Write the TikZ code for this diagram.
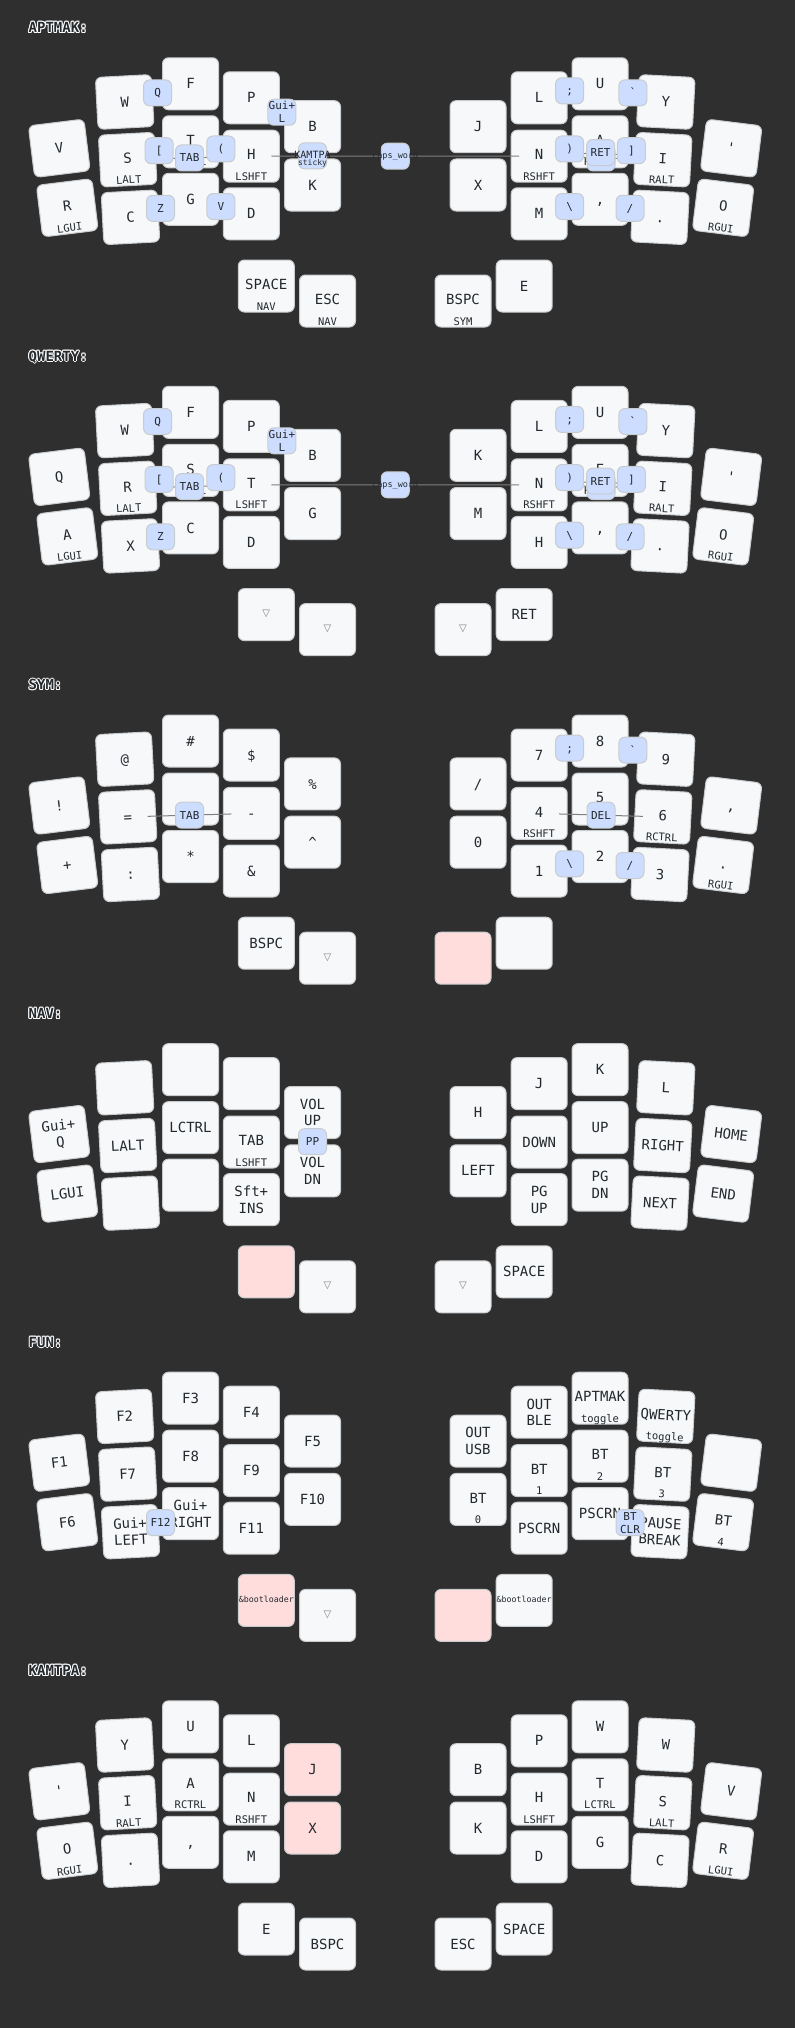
\documentclass[tikz,border=0pt]{standalone}
\usepackage{fontspec}
\setmonofont{DejaVu Sans Mono}
\newfontfamily\symf{DejaVu Sans}
\usetikzlibrary{calc}
\definecolor{bgc}{HTML}{2F2F2F}
\definecolor{keyfill}{HTML}{F6F8FA}
\definecolor{keyline}{HTML}{C9CCCF}
\definecolor{heldfill}{HTML}{FFDDDD}
\definecolor{combofill}{HTML}{CCDDFF}
\definecolor{textc}{HTML}{24292E}
\definecolor{transc}{HTML}{7B7E81}
\definecolor{linec}{HTML}{808080}
\pgfdeclarelayer{bg}
\pgfdeclarelayer{keys}
\pgfdeclarelayer{lines}
\pgfsetlayers{bg,keys,lines,main}

\newcommand\tapf{\ttfamily\fontsize{14}{16}\selectfont}
\newcommand\holdf{\ttfamily\fontsize{10.5}{12}\selectfont}
\newcommand\combf{\ttfamily\fontsize{11}{13}\selectfont}
\newcommand\titlf{\ttfamily\bfseries\fontsize{14}{16}\selectfont}
\newcommand\trs{\textcolor{transc}{\raisebox{3pt}{\symf\fontsize{10}{12}\selectfont ▽}}}
\newcommand\boot{\raisebox{3.5pt}{\fontsize{8.3}{10}\selectfont\&bootloader}}

\tikzset{
 keybox/.style={draw=keyline, fill=keyfill, line width=1pt, rounded corners=6pt, minimum width=56pt, minimum height=52pt, inner sep=0pt, outer sep=0pt},
 keyheld/.style={keybox, fill=heldfill},
 tapl/.style={anchor=base, inner sep=0pt, font=\tapf, text=textc},
 holdl/.style={anchor=base, inner sep=0pt, font=\holdf, text=textc},
 combobox/.style={draw=keyline, fill=combofill, line width=1pt, rounded corners=6pt, minimum width=28pt, minimum height=26pt, inner sep=0pt, font=\combf, text=textc, text height=8pt, text depth=0pt},
 combotxt/.style={anchor=base, inner sep=0pt, font=\combf, text=textc},
 dendron/.style={draw=linec, line width=1pt, shorten >=20pt},
 titl/.style={anchor=base west, inner sep=0pt, font=\titlf},
}

% key with optional hold label: x y rot name style tap hold
\newcommand\kk[7]{%
 \begin{pgfonlayer}{keys}
 \begin{scope}[shift={(#1,#2)}, rotate=#3, transform shape]
  \node[#5] (#4) at (0,0) {};
  \ifx\relax#7\relax
   \node[tapl] at (0,5.1) {#6};
  \else
   \node[tapl] at (0,3.6) {#6};
   \node[holdl] at (0,24) {#7};
  \fi
 \end{scope}
 \end{pgfonlayer}}
% key with two-line tap label
\newcommand\kkb[7]{%
 \begin{pgfonlayer}{keys}
 \begin{scope}[shift={(#1,#2)}, rotate=#3, transform shape]
  \node[#5] (#4) at (0,0) {};
  \node[tapl] at (0,-3.2) {#6};
  \node[tapl] at (0,13.4) {#7};
 \end{scope}
 \end{pgfonlayer}}
\newcommand\defpos[4]{\expandafter\def\csname pos#1\endcsname{{#2}{#3}{#4}}}
\newcommand\K[5]{\expandafter\expandafter\expandafter\kk\csname pos#1\endcsname{#2}{#3}{#4}{#5}}
\newcommand\KB[5]{\expandafter\expandafter\expandafter\kkb\csname pos#1\endcsname{#2}{#3}{#4}{#5}}
\newcommand\cb[3]{\node[combobox] (#1) at #2 {#3};}
\newcommand\cbb[4]{\node[combobox] (#1) at #2 {};
 \node[combotxt, yshift=2.5pt] at (#1.center) {#3};
 \node[combotxt, yshift=-10.3pt] at (#1.center) {#4};}
\newcommand\dd[2]{\begin{pgfonlayer}{lines}\draw[dendron] (#1.center) -- (#2.center);\end{pgfonlayer}}
\newcommand\ttl[2]{%
 \foreach \dx/\dy in {-1/0,1/0,0/-1,0/1,-0.75/-0.75,0.75/0.75,-0.75/0.75,0.75/-0.75}
  {\node[titl, text=white] at (28.5+\dx,32.6+\dy) {#2};}
 \node[titl, text=textc] (#1) at (28.5,32.6) {#2};}

\defpos{L00}{59.3}{148.3}{7}
\defpos{L01}{67.3}{207.8}{7}
\defpos{L10}{124.7}{102}{3}
\defpos{L11}{127.7}{159.7}{3}
\defpos{L12}{130.5}{217.3}{3}
\defpos{L20}{190.5}{83.8}{0}
\defpos{L21}{190.5}{141.8}{0}
\defpos{L22}{190.5}{199.3}{0}
\defpos{L30}{251.3}{97.8}{0}
\defpos{L31}{251.3}{156.2}{0}
\defpos{L32}{251.3}{213.8}{0}
\defpos{L40}{312.5}{126.7}{0}
\defpos{L41}{312.5}{185}{0}
\defpos{LT1}{266.3}{286}{0}
\defpos{LT2}{327.5}{301}{0}
\defpos{R00}{731.2}{148.3}{-7}
\defpos{R01}{723.2}{207.8}{-7}
\defpos{R10}{665.8}{102}{-3}
\defpos{R11}{662.8}{159.7}{-3}
\defpos{R12}{660}{217.3}{-3}
\defpos{R20}{600}{83.8}{0}
\defpos{R21}{600}{141.8}{0}
\defpos{R22}{600}{199.3}{0}
\defpos{R30}{539.2}{97.8}{0}
\defpos{R31}{539.2}{156.2}{0}
\defpos{R32}{539.2}{213.8}{0}
\defpos{R40}{478}{126.7}{0}
\defpos{R41}{478}{185}{0}
\defpos{RT1}{524.2}{286}{0}
\defpos{RT2}{463}{301}{0}

\begin{document}
\begin{tikzpicture}[x=1pt,y=-1pt]
\useasboundingbox (0,0) rectangle (795,2028);
\begin{pgfonlayer}{bg}\fill[bgc] (0,0) rectangle (795,2028);\end{pgfonlayer}

%% ---------------- APTMAK
\begin{scope}[shift={(0,0)}]
\ttl{tA}{APTMAK:}
\K{L00}{a-L00}{keybox}{V}{}
\K{L01}{a-L01}{keybox}{R}{LGUI}
\K{L10}{a-L10}{keybox}{W}{}
\K{L11}{a-L11}{keybox}{S}{LALT}
\K{L12}{a-L12}{keybox}{C}{}
\K{L20}{a-L20}{keybox}{F}{}
\K{L21}{a-L21}{keybox}{T}{LCTRL}
\K{L22}{a-L22}{keybox}{G}{}
\K{L30}{a-L30}{keybox}{P}{}
\K{L31}{a-L31}{keybox}{H}{LSHFT}
\K{L32}{a-L32}{keybox}{D}{}
\K{L40}{a-L40}{keybox}{B}{}
\K{L41}{a-L41}{keybox}{K}{}
\K{LT1}{a-LT1}{keybox}{SPACE}{NAV}
\K{LT2}{a-LT2}{keybox}{ESC}{NAV}
\K{R40}{a-R40}{keybox}{J}{}
\K{R41}{a-R41}{keybox}{X}{}
\K{R30}{a-R30}{keybox}{L}{}
\K{R31}{a-R31}{keybox}{N}{RSHFT}
\K{R32}{a-R32}{keybox}{M}{}
\K{R20}{a-R20}{keybox}{U}{}
\K{R21}{a-R21}{keybox}{A}{RCTRL}
\K{R22}{a-R22}{keybox}{,}{}
\K{R10}{a-R10}{keybox}{Y}{}
\K{R11}{a-R11}{keybox}{I}{RALT}
\K{R12}{a-R12}{keybox}{.}{}
\K{R00}{a-R00}{keybox}{'}{}
\K{R01}{a-R01}{keybox}{O}{RGUI}
\K{RT2}{a-RT2}{keybox}{BSPC}{SYM}
\K{RT1}{a-RT1}{keybox}{E}{}
\cb{aQ}{($(a-L10)!0.5!(a-L20)$)}{Q}
\cbb{aGL}{($(a-L30)!0.5!(a-L40)$)}{Gui+}{L}
\cb{aLB}{($(a-L11)!0.5!(a-L21)$)}{[}
\cb{aTAB}{($(a-L11)!0.5!(a-L31)$)}{TAB}
\dd{aTAB}{a-L11}\dd{aTAB}{a-L31}
\cb{aLP}{($(a-L21)!0.5!(a-L31)$)}{(}
\node[combobox] (aKAM) at ($(a-L40)!0.5!(a-L41)$) {};
\node[anchor=base, inner sep=0pt, font=\ttfamily\fontsize{10}{12}\selectfont, text=textc, yshift=-2.6pt] at (aKAM.center) {KAMTPA};
\node[anchor=base, inner sep=0pt, font=\ttfamily\fontsize{8}{10}\selectfont, text=textc, yshift=-10pt] at (aKAM.center) {sticky};
\cb{aZ}{($(a-L12)!0.5!(a-L22)$)}{Z}
\cb{aV}{($(a-L22)!0.5!(a-L32)$)}{V}
\node[combobox] (aCW) at ($(a-L31)!0.5!(a-R31)$) {};
\node[anchor=base, inner sep=0pt, font=\ttfamily\fontsize{8.5}{10}\selectfont, text=textc, yshift=-2.5pt] at (aCW.center) {caps\_word};
\dd{aCW}{a-L31}\dd{aCW}{a-R31}
\cb{aSC}{($(a-R30)!0.5!(a-R20)$)}{;}
\cb{aGR}{($(a-R20)!0.5!(a-R10)$)}{`}
\cb{aRP}{($(a-R31)!0.5!(a-R21)$)}{)}
\cb{aNI}{($(a-R31)!0.5!(a-R11)$)}{}
\dd{aNI}{a-R31}\dd{aNI}{a-R11}
\cb{aRET}{(barycentric cs:a-R31=1,a-R21=1,a-R11=1)}{RET}
\dd{aRET}{a-R31}\dd{aRET}{a-R11}
\cb{aRB}{($(a-R21)!0.5!(a-R11)$)}{]}
\cb{aBS}{($(a-R32)!0.5!(a-R22)$)}{\textbackslash}
\cb{aSL}{($(a-R22)!0.5!(a-R12)$)}{/}
\end{scope}

%% ---------------- QWERTY
\begin{scope}[shift={(0,328.6)}]
\ttl{tQ}{QWERTY:}
\K{L00}{q-L00}{keybox}{Q}{}
\K{L01}{q-L01}{keybox}{A}{LGUI}
\K{L10}{q-L10}{keybox}{W}{}
\K{L11}{q-L11}{keybox}{R}{LALT}
\K{L12}{q-L12}{keybox}{X}{}
\K{L20}{q-L20}{keybox}{F}{}
\K{L21}{q-L21}{keybox}{S}{LCTRL}
\K{L22}{q-L22}{keybox}{C}{}
\K{L30}{q-L30}{keybox}{P}{}
\K{L31}{q-L31}{keybox}{T}{LSHFT}
\K{L32}{q-L32}{keybox}{D}{}
\K{L40}{q-L40}{keybox}{B}{}
\K{L41}{q-L41}{keybox}{G}{}
\K{LT1}{q-LT1}{keybox}{\trs}{}
\K{LT2}{q-LT2}{keybox}{\trs}{}
\K{R40}{q-R40}{keybox}{K}{}
\K{R41}{q-R41}{keybox}{M}{}
\K{R30}{q-R30}{keybox}{L}{}
\K{R31}{q-R31}{keybox}{N}{RSHFT}
\K{R32}{q-R32}{keybox}{H}{}
\K{R20}{q-R20}{keybox}{U}{}
\K{R21}{q-R21}{keybox}{E}{RCTRL}
\K{R22}{q-R22}{keybox}{,}{}
\K{R10}{q-R10}{keybox}{Y}{}
\K{R11}{q-R11}{keybox}{I}{RALT}
\K{R12}{q-R12}{keybox}{.}{}
\K{R00}{q-R00}{keybox}{'}{}
\K{R01}{q-R01}{keybox}{O}{RGUI}
\K{RT2}{q-RT2}{keybox}{\trs}{}
\K{RT1}{q-RT1}{keybox}{RET}{}
\cb{qQ}{($(q-L10)!0.5!(q-L20)$)}{Q}
\cbb{qGL}{($(q-L30)!0.5!(q-L40)$)}{Gui+}{L}
\cb{qLB}{($(q-L11)!0.5!(q-L21)$)}{[}
\cb{qTAB}{($(q-L11)!0.5!(q-L31)$)}{TAB}
\dd{qTAB}{q-L11}\dd{qTAB}{q-L31}
\cb{qLP}{($(q-L21)!0.5!(q-L31)$)}{(}
\cb{qZ}{($(q-L12)!0.5!(q-L22)$)}{Z}
\node[combobox] (qCW) at ($(q-L31)!0.5!(q-R31)$) {};
\node[anchor=base, inner sep=0pt, font=\ttfamily\fontsize{8.5}{10}\selectfont, text=textc, yshift=-2.5pt] at (qCW.center) {caps\_word};
\dd{qCW}{q-L31}\dd{qCW}{q-R31}
\cb{qSC}{($(q-R30)!0.5!(q-R20)$)}{;}
\cb{qGR}{($(q-R20)!0.5!(q-R10)$)}{`}
\cb{qRP}{($(q-R31)!0.5!(q-R21)$)}{)}
\cb{qNI}{($(q-R31)!0.5!(q-R11)$)}{}
\dd{qNI}{q-R31}\dd{qNI}{q-R11}
\cb{qRET}{(barycentric cs:q-R31=1,q-R21=1,q-R11=1)}{RET}
\dd{qRET}{q-R31}\dd{qRET}{q-R11}
\cb{qRB}{($(q-R21)!0.5!(q-R11)$)}{]}
\cb{qBS}{($(q-R32)!0.5!(q-R22)$)}{\textbackslash}
\cb{qSL}{($(q-R22)!0.5!(q-R12)$)}{/}
\end{scope}

%% ---------------- SYM
\begin{scope}[shift={(0,657.2)}]
\ttl{tS}{SYM:}
\K{L00}{s-L00}{keybox}{!}{}
\K{L01}{s-L01}{keybox}{+}{}
\K{L10}{s-L10}{keybox}{@}{}
\K{L11}{s-L11}{keybox}{=}{}
\K{L12}{s-L12}{keybox}{:}{}
\K{L20}{s-L20}{keybox}{\#}{}
\K{L21}{s-L21}{keybox}{}{}
\K{L22}{s-L22}{keybox}{*}{}
\K{L30}{s-L30}{keybox}{\$}{}
\K{L31}{s-L31}{keybox}{-}{}
\K{L32}{s-L32}{keybox}{\&}{}
\K{L40}{s-L40}{keybox}{\%}{}
\K{L41}{s-L41}{keybox}{\textasciicircum}{}
\K{LT1}{s-LT1}{keybox}{BSPC}{}
\K{LT2}{s-LT2}{keybox}{\trs}{}
\K{R40}{s-R40}{keybox}{/}{}
\K{R41}{s-R41}{keybox}{0}{}
\K{R30}{s-R30}{keybox}{7}{}
\K{R31}{s-R31}{keybox}{4}{RSHFT}
\K{R32}{s-R32}{keybox}{1}{}
\K{R20}{s-R20}{keybox}{8}{}
\K{R21}{s-R21}{keybox}{5}{RALT}
\K{R22}{s-R22}{keybox}{2}{}
\K{R10}{s-R10}{keybox}{9}{}
\K{R11}{s-R11}{keybox}{6}{RCTRL}
\K{R12}{s-R12}{keybox}{3}{}
\K{R00}{s-R00}{keybox}{,}{}
\K{R01}{s-R01}{keybox}{.}{RGUI}
\K{RT2}{s-RT2}{keyheld}{}{}
\K{RT1}{s-RT1}{keybox}{}{}
\cb{sTAB}{($(s-L11)!0.5!(s-L31)$)}{TAB}
\dd{sTAB}{s-L11}\dd{sTAB}{s-L31}
\cb{sSC}{($(s-R30)!0.5!(s-R20)$)}{;}
\cb{sGR}{($(s-R20)!0.5!(s-R10)$)}{`}
\cb{sDEL}{($(s-R31)!0.5!(s-R11)$)}{DEL}
\dd{sDEL}{s-R31}\dd{sDEL}{s-R11}
\cb{sBS}{($(s-R32)!0.5!(s-R22)$)}{\textbackslash}
\cb{sSL}{($(s-R22)!0.5!(s-R12)$)}{/}
\end{scope}

%% ---------------- NAV
\begin{scope}[shift={(0,985.8)}]
\ttl{tN}{NAV:}
\KB{L00}{n-L00}{keybox}{Gui+}{Q}
\K{L01}{n-L01}{keybox}{LGUI}{}
\K{L10}{n-L10}{keybox}{}{}
\K{L11}{n-L11}{keybox}{LALT}{}
\K{L12}{n-L12}{keybox}{}{}
\K{L20}{n-L20}{keybox}{}{}
\K{L21}{n-L21}{keybox}{LCTRL}{}
\K{L22}{n-L22}{keybox}{}{}
\K{L30}{n-L30}{keybox}{}{}
\K{L31}{n-L31}{keybox}{TAB}{LSHFT}
\KB{L32}{n-L32}{keybox}{Sft+}{INS}
\KB{L40}{n-L40}{keybox}{VOL}{UP}
\KB{L41}{n-L41}{keybox}{VOL}{DN}
\K{LT1}{n-LT1}{keyheld}{}{}
\K{LT2}{n-LT2}{keybox}{\trs}{}
\K{R40}{n-R40}{keybox}{H}{}
\K{R41}{n-R41}{keybox}{LEFT}{}
\K{R30}{n-R30}{keybox}{J}{}
\K{R31}{n-R31}{keybox}{DOWN}{}
\KB{R32}{n-R32}{keybox}{PG}{UP}
\K{R20}{n-R20}{keybox}{K}{}
\K{R21}{n-R21}{keybox}{UP}{}
\KB{R22}{n-R22}{keybox}{PG}{DN}
\K{R10}{n-R10}{keybox}{L}{}
\K{R11}{n-R11}{keybox}{RIGHT}{}
\K{R12}{n-R12}{keybox}{NEXT}{}
\K{R00}{n-R00}{keybox}{HOME}{}
\K{R01}{n-R01}{keybox}{END}{}
\K{RT2}{n-RT2}{keybox}{\trs}{}
\K{RT1}{n-RT1}{keybox}{SPACE}{}
\cb{nPP}{($(n-L40)!0.5!(n-L41)$)}{PP}
\end{scope}

%% ---------------- FUN
\begin{scope}[shift={(0,1314.4)}]
\ttl{tF}{FUN:}
\K{L00}{f-L00}{keybox}{F1}{}
\K{L01}{f-L01}{keybox}{F6}{}
\K{L10}{f-L10}{keybox}{F2}{}
\K{L11}{f-L11}{keybox}{F7}{}
\KB{L12}{f-L12}{keybox}{Gui+}{LEFT}
\K{L20}{f-L20}{keybox}{F3}{}
\K{L21}{f-L21}{keybox}{F8}{}
\KB{L22}{f-L22}{keybox}{Gui+}{RIGHT}
\K{L30}{f-L30}{keybox}{F4}{}
\K{L31}{f-L31}{keybox}{F9}{}
\K{L32}{f-L32}{keybox}{F11}{}
\K{L40}{f-L40}{keybox}{F5}{}
\K{L41}{f-L41}{keybox}{F10}{}
\K{LT1}{f-LT1}{keyheld}{\boot}{}
\K{LT2}{f-LT2}{keybox}{\trs}{}
\KB{R40}{f-R40}{keybox}{OUT}{USB}
\K{R41}{f-R41}{keybox}{BT}{0}
\KB{R30}{f-R30}{keybox}{OUT}{BLE}
\K{R31}{f-R31}{keybox}{BT}{1}
\K{R32}{f-R32}{keybox}{PSCRN}{}
\K{R20}{f-R20}{keybox}{APTMAK}{toggle}
\K{R21}{f-R21}{keybox}{BT}{2}
\K{R22}{f-R22}{keybox}{PSCRN}{}
\K{R10}{f-R10}{keybox}{QWERTY}{toggle}
\K{R11}{f-R11}{keybox}{BT}{3}
\KB{R12}{f-R12}{keybox}{PAUSE}{BREAK}
\K{R00}{f-R00}{keybox}{}{}
\K{R01}{f-R01}{keybox}{BT}{4}
\K{RT2}{f-RT2}{keyheld}{}{}
\K{RT1}{f-RT1}{keybox}{\boot}{}
\cb{fF12}{($(f-L12)!0.5!(f-L22)$)}{F12}
\cbb{fBTC}{($(f-R22)!0.5!(f-R12)$)}{BT}{CLR}
\end{scope}

%% ---------------- KAMTPA
\begin{scope}[shift={(0,1643)}]
\ttl{tK}{KAMTPA:}
\K{L00}{k-L00}{keybox}{'}{}
\K{L01}{k-L01}{keybox}{O}{RGUI}
\K{L10}{k-L10}{keybox}{Y}{}
\K{L11}{k-L11}{keybox}{I}{RALT}
\K{L12}{k-L12}{keybox}{.}{}
\K{L20}{k-L20}{keybox}{U}{}
\K{L21}{k-L21}{keybox}{A}{RCTRL}
\K{L22}{k-L22}{keybox}{,}{}
\K{L30}{k-L30}{keybox}{L}{}
\K{L31}{k-L31}{keybox}{N}{RSHFT}
\K{L32}{k-L32}{keybox}{M}{}
\K{L40}{k-L40}{keyheld}{J}{}
\K{L41}{k-L41}{keyheld}{X}{}
\K{LT1}{k-LT1}{keybox}{E}{}
\K{LT2}{k-LT2}{keybox}{BSPC}{}
\K{R40}{k-R40}{keybox}{B}{}
\K{R41}{k-R41}{keybox}{K}{}
\K{R30}{k-R30}{keybox}{P}{}
\K{R31}{k-R31}{keybox}{H}{LSHFT}
\K{R32}{k-R32}{keybox}{D}{}
\K{R20}{k-R20}{keybox}{W}{}
\K{R21}{k-R21}{keybox}{T}{LCTRL}
\K{R22}{k-R22}{keybox}{G}{}
\K{R10}{k-R10}{keybox}{W}{}
\K{R11}{k-R11}{keybox}{S}{LALT}
\K{R12}{k-R12}{keybox}{C}{}
\K{R00}{k-R00}{keybox}{V}{}
\K{R01}{k-R01}{keybox}{R}{LGUI}
\K{RT2}{k-RT2}{keybox}{ESC}{}
\K{RT1}{k-RT1}{keybox}{SPACE}{}
\end{scope}
\end{tikzpicture}
\end{document}
